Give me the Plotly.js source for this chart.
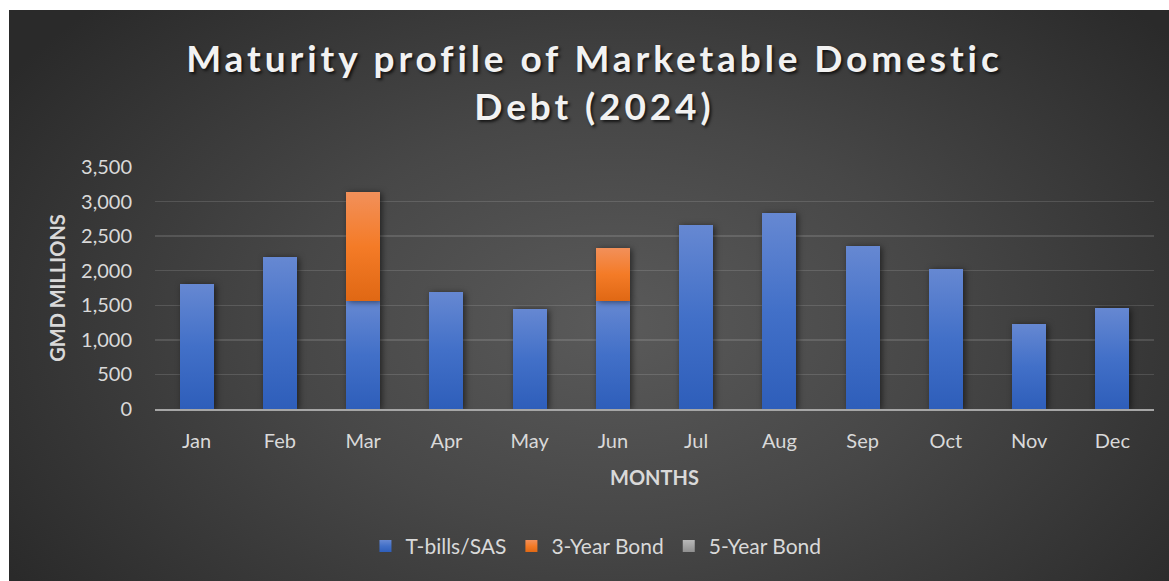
<!DOCTYPE html>
<html>
<head>
<meta charset="utf-8">
<script src="https://cdn.plot.ly/plotly-3.0.1.min.js"></script>
<style>
  html, body { margin:0; padding:0; background:#ffffff; width:1169px; height:581px; overflow:hidden; }
  #chart {
    position:absolute; left:9px; top:10px; width:1160px; height:571px;
    background: radial-gradient(ellipse 62% 80% at 52% 55%, #5a5a5a 0%, #474747 45%, #2a2a2a 100%);
  }
  #chart .barlayer .trace:nth-of-type(1) .point path { fill:url(#gBlue) !important; }
  #chart .barlayer .trace:nth-of-type(2) .point path { fill:url(#gOrange) !important; }
  #chart .barlayer .trace:nth-of-type(3) .point path { fill:url(#gGray) !important; }
  #chart .barlayer .point path { filter: drop-shadow(2px 1px 3px rgba(0,0,0,0.55)); }
  #chart .legend .traces:nth-of-type(1) .legendpoints path { fill:url(#gBlue) !important; }
  #chart .legend .traces:nth-of-type(2) .legendpoints path { fill:url(#gOrange) !important; }
  #chart .legend .traces:nth-of-type(3) .legendpoints path { fill:url(#gGray) !important; }
  #chart .gtitle { letter-spacing: 3.9px; }
</style>
</head>
<body>
<svg width="0" height="0" style="position:absolute">
  <defs>
    <linearGradient id="gBlue" x1="0" y1="0" x2="0" y2="1">
      <stop offset="0" stop-color="#6688d2"/>
      <stop offset="0.5" stop-color="#4270c8"/>
      <stop offset="1" stop-color="#2e5eba"/>
    </linearGradient>
    <linearGradient id="gOrange" x1="0" y1="0" x2="0" y2="1">
      <stop offset="0" stop-color="#f2905a"/>
      <stop offset="0.5" stop-color="#f47b27"/>
      <stop offset="1" stop-color="#e06814"/>
    </linearGradient>
    <linearGradient id="gGray" x1="0" y1="0" x2="0" y2="1">
      <stop offset="0" stop-color="#b8b8b8"/>
      <stop offset="1" stop-color="#8f8f8f"/>
    </linearGradient>
  </defs>
</svg>
<div id="chart"></div>
<script>
const months = ['Jan','Feb','Mar','Apr','May','Jun','Jul','Aug','Sep','Oct','Nov','Dec'];
const tbills = [1810, 2200, 1565, 1695, 1450, 1565, 2660, 2835, 2355, 2025, 1235, 1465];
const bond3y = [0, 0, 1570, 0, 0, 765, 0, 0, 0, 0, 0, 0];
const bond5y = [0, 0, 0, 0, 0, 0, 0, 0, 0, 0, 0, 0];
const seriesNames = ['T-bills/SAS', '3-Year Bond', '5-Year Bond'];
const yTicks = [0, 500, 1000, 1500, 2000, 2500, 3000, 3500];
const yTickText = ['0', '500', '1,000', '1,500', '2,000', '2,500', '3,000', '3,500'];

const FONT = 'Lato, "Open Sans", sans-serif';
const TXT = '#d9d9d9';

const traces = [
  { type:'bar', name:seriesNames[0], x:months, y:tbills, marker:{color:'#4472C4'}, hoverinfo:'skip' },
  { type:'bar', name:seriesNames[1], x:months, y:bond3y, marker:{color:'#ED7D31'}, hoverinfo:'skip' },
  { type:'bar', name:seriesNames[2], x:months, y:bond5y, marker:{color:'#A5A5A5'}, hoverinfo:'skip' }
];

const layout = {
  width:1160, height:571,
  paper_bgcolor:'rgba(0,0,0,0)', plot_bgcolor:'rgba(0,0,0,0)',
  barmode:'stack', bargap:0.59,
  margin:{l:146, r:15, t:157, b:172, autoexpand:false},
  showlegend:true,
  title:{
    text:'Maturity profile of Marketable Domestic<br>Debt (2024)',
    x:0.5047, xref:'container', xanchor:'center',
    y:0.891, yref:'container', yanchor:'middle',
    font:{family:FONT, size:37, color:'#f2f2f2', weight:'bold', shadow:'2px 2px 3px rgba(0,0,0,0.7)'}
  },
  xaxis:{
    type:'category', fixedrange:true, automargin:false, tickangle:0,
    tickfont:{family:FONT, size:20, color:TXT},
    ticklabelstandoff:13,
    showgrid:false, zeroline:false,
    showline:true, linecolor:'#a6a6a6', linewidth:2,
    ticks:'',
    title:{text:'MONTHS', font:{family:FONT, size:20, color:TXT, weight:'bold'}, standoff:20}
  },
  yaxis:{
    range:[0,3500], fixedrange:true, automargin:false,
    tickvals:yTicks, ticktext:yTickText,
    tickfont:{family:FONT, size:20, color:TXT},
    ticklabelstandoff:22,
    showgrid:true, gridcolor:'rgba(255,255,255,0.13)', gridwidth:1.5,
    zeroline:false, showline:false, ticks:'',
    title:{text:'GMD MILLIONS', font:{family:FONT, size:20, color:TXT, weight:'bold'}, standoff:10}
  },
  legend:{
    orientation:'h', x:0.4414, xanchor:'center', y:-0.568, yanchor:'middle',
    font:{family:FONT, size:21, color:TXT},
    itemwidth:30, traceorder:'normal', bgcolor:'rgba(0,0,0,0)'
  }
};

Plotly.newPlot('chart', traces, layout, {displayModeBar:false, staticPlot:true});
</script>
</body>
</html>
